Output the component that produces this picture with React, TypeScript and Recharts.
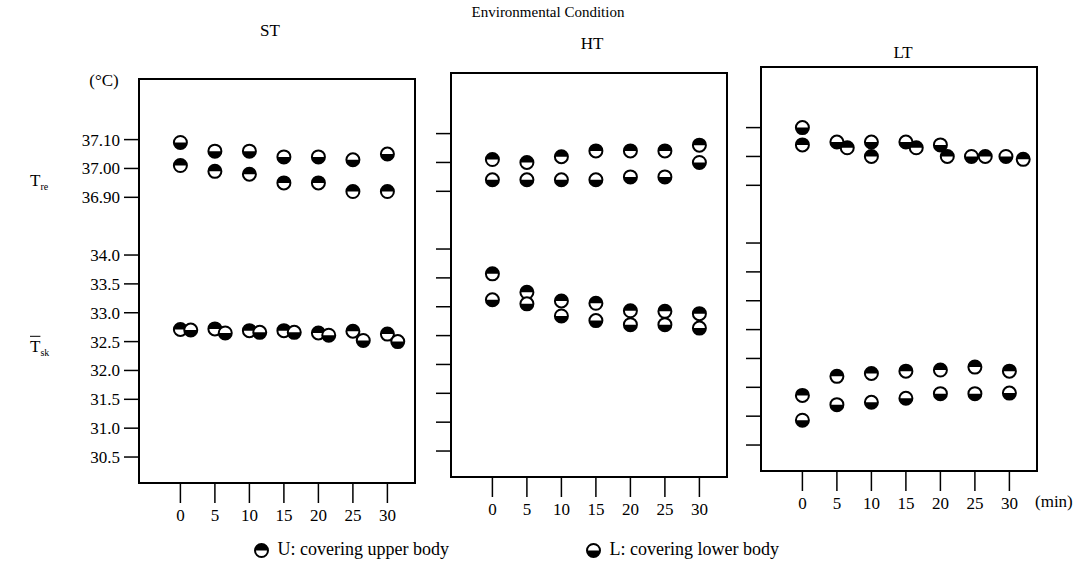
import React from "react";
import { ScatterChart, Scatter, XAxis, YAxis, ReferenceArea } from "recharts";

// time axis (min)
const minutes = [0, 5, 10, 15, 20, 25, 30];

// tick labels of the broken y axis
const skTicks = [30.5, 31.0, 31.5, 32.0, 32.5, 33.0, 33.5, 34.0];
const reTicks = [36.9, 37.0, 37.1];

// ST
const stReU = [37.01, 36.99, 36.98, 36.95, 36.95, 36.92, 36.92];
const stReL = [37.09, 37.06, 37.06, 37.04, 37.04, 37.03, 37.05];
const stSkU = [32.71, 32.72, 32.69, 32.69, 32.65, 32.68, 32.63];
const stSkL = [32.7, 32.65, 32.66, 32.66, 32.61, 32.52, 32.5];
const stSkLMin = [1.5, 6.5, 11.5, 16.5, 21.5, 26.5, 31.5];

// HT
const htReU = [37.01, 37.0, 37.02, 37.04, 37.04, 37.04, 37.06];
const htReL = [36.94, 36.94, 36.94, 36.94, 36.95, 36.95, 37.0];
const htSkU = [33.57, 33.25, 33.1, 33.06, 32.93, 32.92, 32.88];
const htSkL = [33.12, 33.05, 32.84, 32.76, 32.69, 32.69, 32.63];

// LT
const ltReL = [37.1, 37.05, 37.05, 37.05, 37.04, 37.0, 37.0];
const ltReU = [37.04, 37.03, 37.0, 37.03, 37.0, 37.0, 36.99];
const ltReLMin = [0, 5, 10, 15, 20, 24.5, 29.5];
const ltReUMin = [0, 6.5, 10, 16.5, 21, 26.5, 32];
const ltSkU = [31.36, 31.69, 31.74, 31.78, 31.8, 31.85, 31.78];
const ltSkL = [30.93, 31.2, 31.24, 31.31, 31.39, 31.39, 31.4];

const SERIF = '"Liberation Serif", "DejaVu Serif", serif';

// broken axis: one unit per tick step, two empty units between 34.0 and 36.90
const skU = (v: number) => (v - 30.5) / 0.5;
const reU = (v: number) => 9 + (v - 36.9) / 0.1;

const yTickList = [
  ...skTicks.map((v) => ({ u: skU(v), label: v.toFixed(1) })),
  ...reTicks.map((v) => ({ u: reU(v), label: v.toFixed(2) })),
];

const toPoints = (xs: number[], ys: number[], f: (v: number) => number) =>
  xs.map((x, i) => ({ x, y: f(ys[i]) }));

const AXIS_W = 70;
const PLOT_W = 276;
const PLOT_H = 404;
const X_DOMAIN: [number, number] = [-6, 34];
const Y_DOMAIN: [number, number] = [-0.9, 13.1];

function HalfDot(props: any) {
  const { cx, cy, top } = props;
  if (cx == null || cy == null) return null;
  const r = 6.5;
  const d = `M${cx - r},${cy} A${r},${r} 0 0 ${top ? 1 : 0} ${cx + r},${cy} Z`;
  return (
    <g>
      <circle cx={cx} cy={cy} r={r} fill="#fff" stroke="#000" strokeWidth={2} />
      <path d={d} fill="#000" />
    </g>
  );
}

interface PanelProps {
  left: number;
  top: number;
  labels: boolean;
  upper: { x: number; y: number }[][];
  lower: { x: number; y: number }[][];
}

function Panel({ left, top, labels, upper, lower }: PanelProps) {
  return (
    <div style={{ position: "absolute", left: left - AXIS_W, top: top - 10 }}>
      <ScatterChart
        width={AXIS_W + PLOT_W + 10}
        height={10 + PLOT_H + 60}
        margin={{ top: 10, right: 10, bottom: 0, left: 0 }}
      >
        <XAxis
          type="number"
          dataKey="x"
          domain={X_DOMAIN}
          ticks={minutes}
          allowDataOverflow
          axisLine={false}
          tickSize={20}
          tickMargin={6}
          height={60}
          tickLine={{ stroke: "#000", strokeWidth: 1.5 }}
          tick={{ fill: "#000", fontSize: 17, fontFamily: SERIF }}
        />
        <YAxis
          type="number"
          dataKey="y"
          domain={Y_DOMAIN}
          ticks={yTickList.map((t) => t.u)}
          allowDataOverflow
          axisLine={false}
          width={AXIS_W}
          tickSize={15}
          tickMargin={4}
          tickLine={{ stroke: "#000", strokeWidth: 1.5 }}
          tick={{ fill: "#000", fontSize: 17, fontFamily: SERIF }}
          tickFormatter={(u: number) => {
            if (!labels) return "";
            const t = yTickList.find((k) => Math.abs(k.u - u) < 1e-6);
            return t ? t.label : "";
          }}
        />
        <ReferenceArea
          x1={X_DOMAIN[0]}
          x2={X_DOMAIN[1]}
          y1={Y_DOMAIN[0]}
          y2={Y_DOMAIN[1]}
          fill="none"
          fillOpacity={0}
          stroke="#000"
          strokeWidth={2}
        />
        {upper.map((d, i) => (
          <Scatter key={"u" + i} data={d} isAnimationActive={false} shape={(p: any) => <HalfDot {...p} top />} />
        ))}
        {lower.map((d, i) => (
          <Scatter key={"l" + i} data={d} isAnimationActive={false} shape={(p: any) => <HalfDot {...p} top={false} />} />
        ))}
      </ScatterChart>
    </div>
  );
}

function Text({ x, y, size, children, align = "center" }: any) {
  const tx = align === "center" ? "-50%" : align === "right" ? "-100%" : "0";
  return (
    <div
      style={{
        position: "absolute",
        left: x,
        top: y,
        transform: `translate(${tx}, -50%)`,
        fontFamily: SERIF,
        fontSize: size,
        whiteSpace: "nowrap",
        lineHeight: 1,
        color: "#000",
      }}
    >
      {children}
    </div>
  );
}

function LegendIcon({ top }: { top: boolean }) {
  return (
    <svg width={17} height={17} style={{ verticalAlign: "middle" }}>
      <HalfDot cx={8.5} cy={8.5} top={top} />
    </svg>
  );
}

export default function App() {
  return (
    <div style={{ position: "absolute", left: 0, top: 0, width: 1089, height: 568, background: "#fff" }}>
      <Text x={548} y={12} size={15}>Environmental Condition</Text>
      <Text x={270} y={30} size={17}>ST</Text>
      <Text x={592} y={43} size={17}>HT</Text>
      <Text x={903} y={52} size={17}>LT</Text>
      <Text x={104} y={80} size={17}>(°C)</Text>
      <Text x={30} y={182} size={17} align="left">
        T<sub style={{ fontSize: 10 }}>re</sub>
      </Text>
      <Text x={30} y={348} size={17} align="left">
        <span style={{ textDecoration: "overline" }}>T</span>
        <sub style={{ fontSize: 10 }}>sk</sub>
      </Text>

      <Panel
        left={139}
        top={79}
        labels
        upper={[toPoints(minutes, stReU, reU), toPoints(minutes, stSkU, skU)]}
        lower={[toPoints(minutes, stReL, reU), toPoints(stSkLMin, stSkL, skU)]}
      />
      <Panel
        left={451}
        top={73}
        labels={false}
        upper={[toPoints(minutes, htReU, reU), toPoints(minutes, htSkU, skU)]}
        lower={[toPoints(minutes, htReL, reU), toPoints(minutes, htSkL, skU)]}
      />
      <Panel
        left={761}
        top={67}
        labels={false}
        upper={[toPoints(ltReUMin, ltReU, reU), toPoints(minutes, ltSkU, skU)]}
        lower={[toPoints(ltReLMin, ltReL, reU), toPoints(minutes, ltSkL, skU)]}
      />

      <Text x={1035} y={501} size={17} align="left">(min)</Text>

      <div style={{ position: "absolute", left: 253, top: 539, fontFamily: SERIF, fontSize: 18, whiteSpace: "nowrap" }}>
        <LegendIcon top /> <span style={{ marginLeft: 3 }}>U: covering upper body</span>
      </div>
      <div style={{ position: "absolute", left: 585, top: 539, fontFamily: SERIF, fontSize: 18, whiteSpace: "nowrap" }}>
        <LegendIcon top={false} /> <span style={{ marginLeft: 3 }}>L: covering lower body</span>
      </div>
    </div>
  );
}
